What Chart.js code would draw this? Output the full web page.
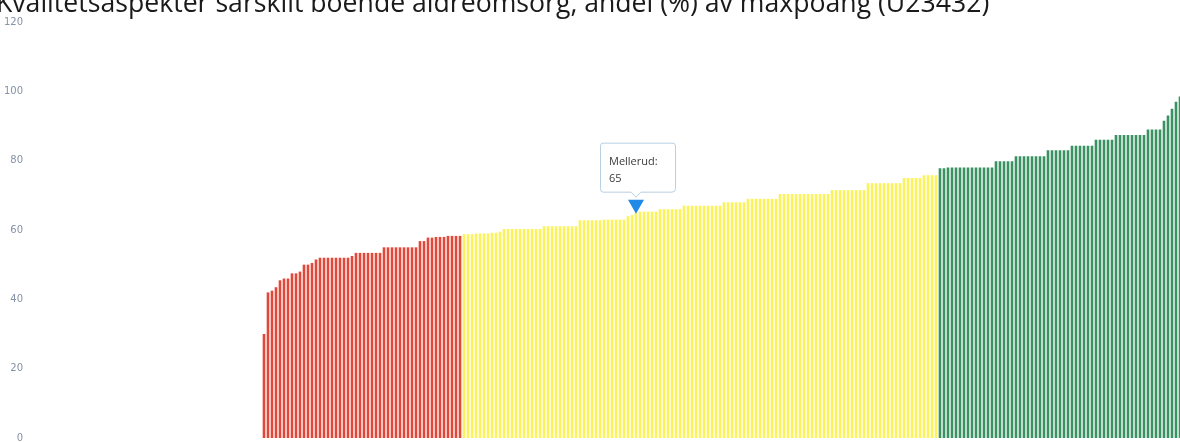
<!DOCTYPE html>
<html>
<head>
<meta charset="utf-8">
<script src="https://cdn.jsdelivr.net/npm/chart.js@4"></script>
<style>
  html, body { margin: 0; padding: 0; background: #fff; overflow: hidden; }
  #wrap { width: 1180px; height: 442px; overflow: hidden; }
</style>
</head>
<body>
<div id="wrap"><canvas id="myChart" width="1186" height="442"></canvas></div>
<script>
// Title (top half is cut off in the original scan)
var titleText = 'Kvalitetsaspekter särskilt boende äldreomsorg, andel (%) av maxpoäng (U23432)';

// Y axis ticks
var yTicks = [0, 20, 40, 60, 80, 100, 120];

// Municipalities without a value (left, empty part of the chart)
var missingCount = 58;

// Red group (lowest third)
var redValues = [
    30, 42, 42.5, 43.5, 45.5, 46, 46, 47.5, 47.5, 48, 50, 50, 50.5,
    51.5, 52, 52, 52, 52, 52, 52, 52, 52, 52.5,
    53.4, 53.4, 53.4, 53.4, 53.4, 53.4, 53.4,
    55, 55, 55, 55, 55, 55, 55, 55, 55,
    56.8, 56.8,
    57.8, 57.8, 58, 58, 58,
    58.3, 58.3, 58.3, 58.3
];

// Yellow group (middle third)
var yellowValues = [
    58.8, 58.8, 58.8, 59, 59, 59, 59, 59.2, 59.2, 59.5,
    60.3, 60.3, 60.3, 60.3, 60.3, 60.3, 60.3, 60.3, 60.3, 60.3,
    61.1, 61.1, 61.1, 61.1, 61.1, 61.1, 61.1, 61.1, 61.1,
    62.8, 62.8, 62.8, 62.8, 62.8, 62.8, 63, 63, 63, 63, 63, 63,
    64, 64.3,
    65,
    65.3, 65.3, 65.3, 65.3, 65.3, 66, 66, 66, 66, 66, 66,
    67, 67, 67, 67, 67, 67, 67, 67, 67, 67,
    68, 68, 68, 68, 68, 68,
    69, 69, 69, 69, 69, 69, 69, 69,
    70.4, 70.4, 70.4, 70.4, 70.4, 70.4, 70.4, 70.4, 70.4, 70.4, 70.4, 70.4, 70.4,
    71.5, 71.5, 71.5, 71.5, 71.5, 71.5, 71.5, 71.5, 71.5,
    73.5, 73.5, 73.5, 73.5, 73.5, 73.5, 73.5, 73.5, 73.5,
    75, 75, 75, 75, 75, 75.8, 75.8, 75.8, 75.8
];

// Green group (highest third)
var greenValues = [
    77.8, 77.8, 78, 78, 78, 78, 78, 78, 78, 78, 78, 78, 78, 78,
    79.8, 79.8, 79.8, 79.8, 79.8,
    81.3, 81.3, 81.3, 81.3, 81.3, 81.3, 81.3, 81.3,
    83, 83, 83, 83, 83, 83,
    84.3, 84.3, 84.3, 84.3, 84.3, 84.3,
    86, 86, 86, 86, 86,
    87.4, 87.4, 87.4, 87.4, 87.4, 87.4, 87.4, 87.4,
    89, 89, 89, 89,
    91.5, 93, 95, 97, 98.5
];

// Highlighted municipality
var highlightName = 'Mellerud';
var highlightValue = 65;

var colorRed = '#e2483a';
var colorYellow = '#fbf25e';
var colorGreen = '#3a9162';

// Build the full series
var values = [];
var colors = [];
for (var i = 0; i < missingCount; i++) { values.push(null); colors.push(colorRed); }
redValues.forEach(function(v) { values.push(v); colors.push(colorRed); });
yellowValues.forEach(function(v) { values.push(v); colors.push(colorYellow); });
greenValues.forEach(function(v) { values.push(v); colors.push(colorGreen); });

var highlightIndex = missingCount + redValues.length + yellowValues.indexOf(highlightValue);
var labels = values.map(function(v, i) { return i === highlightIndex ? highlightName : ''; });

// Title + marker/tooltip drawn on top
var overlayPlugin = {
    id: 'overlay',
    afterDraw: function(chart) {
        var c = chart.ctx;
        c.save();
        // title
        var size = 23;
        c.font = size + 'px "Open Sans", sans-serif';
        var w = c.measureText(titleText).width;
        size = size * 994 / w;
        c.font = size + 'px "Open Sans", sans-serif';
        c.fillStyle = '#1a1a1a';
        c.textBaseline = 'alphabetic';
        c.fillText(titleText, -4, 12);

        // marker triangle above the highlighted bar
        var x = chart.scales.x.getPixelForValue(highlightIndex);
        var y = chart.scales.y.getPixelForValue(highlightValue);
        c.fillStyle = '#2189e6';
        c.beginPath();
        c.moveTo(x - 8, y - 13);
        c.lineTo(x + 8, y - 13);
        c.lineTo(x, y + 1);
        c.closePath();
        c.fill();

        // tooltip box
        var bx = x - 36, by = y - 70, bw = 75, bh = 49;
        c.fillStyle = '#ffffff';
        c.strokeStyle = '#b9cfe2';
        c.lineWidth = 1;
        c.beginPath();
        c.moveTo(bx + 3, by + 0.5);
        c.lineTo(bx + bw - 3, by + 0.5);
        c.quadraticCurveTo(bx + bw + 0.5, by + 0.5, bx + bw + 0.5, by + 3);
        c.lineTo(bx + bw + 0.5, by + bh - 3);
        c.quadraticCurveTo(bx + bw + 0.5, by + bh + 0.5, bx + bw - 3, by + bh + 0.5);
        c.lineTo(x + 5, by + bh + 0.5);
        c.lineTo(x, by + bh + 5.5);
        c.lineTo(x - 5, by + bh + 0.5);
        c.lineTo(bx + 3, by + bh + 0.5);
        c.quadraticCurveTo(bx + 0.5, by + bh + 0.5, bx + 0.5, by + bh - 3);
        c.lineTo(bx + 0.5, by + 3);
        c.quadraticCurveTo(bx + 0.5, by + 0.5, bx + 3, by + 0.5);
        c.closePath();
        c.fill();
        c.stroke();

        c.fillStyle = '#3a3a3a';
        c.font = '11px "Open Sans", sans-serif';
        c.textAlign = 'left';
        c.fillText(highlightName + ':', bx + 9, by + 22);
        c.fillText(String(highlightValue), bx + 9, by + 39);
        c.restore();
    }
};

var ctx = document.getElementById('myChart').getContext('2d');

var data = {
    labels: labels,
    datasets: [{
        label: 'Andel (%)',
        data: values,
        backgroundColor: colors,
        borderWidth: 0,
        categoryPercentage: 1.0,
        barPercentage: 0.66
    }]
};

var options = {
    responsive: false,
    animation: false,
    layout: {
        padding: { top: 22, bottom: 4, left: 0, right: 4 }
    },
    plugins: {
        legend: { display: false },
        tooltip: { enabled: false },
        title: { display: false }
    },
    scales: {
        x: {
            display: false
        },
        y: {
            min: 0,
            max: 120,
            afterBuildTicks: function(scale) {
                scale.ticks = yTicks.map(function(v) { return { value: v }; });
            },
            afterFit: function(scale) {
                scale.width = 30;
                scale.paddingTop = 0;
                scale.paddingBottom = 0;
            },
            grid: { display: false, drawTicks: false },
            border: { display: false },
            ticks: {
                padding: 7,
                color: '#8592a6',
                font: { size: 10, family: 'DejaVu Sans' }
            }
        }
    }
};

var myChart = new Chart(ctx, {
    type: 'bar',
    data: data,
    options: options,
    plugins: [overlayPlugin]
});
</script>
</body>
</html>
